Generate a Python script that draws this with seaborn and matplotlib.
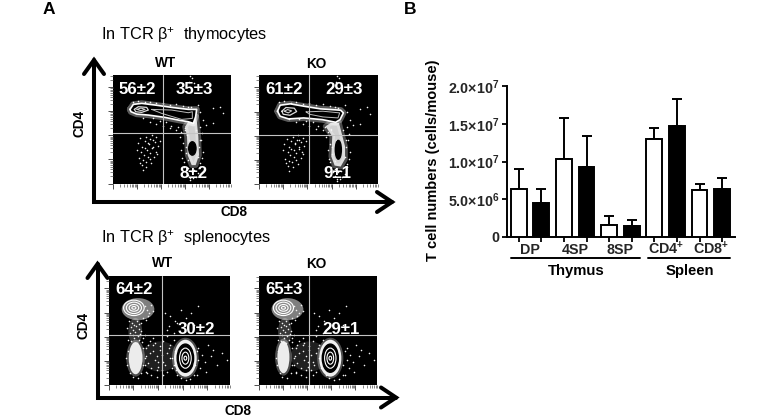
import numpy as np
import pandas as pd
import matplotlib
matplotlib.use("Agg")
import matplotlib.pyplot as plt
from matplotlib.patches import Ellipse
import seaborn as sns

# ---------- bar chart data ----------
CELLS = ["DP", "4SP", "8SP", "CD4$^{+}$", "CD8$^{+}$"]
WT_MEAN = [6.3e6, 10.3e6, 1.6e6, 13.0e6, 6.2e6]
KO_MEAN = [4.5e6, 9.3e6, 1.4e6, 14.7e6, 6.4e6]
WT_TOP = [9.0e6, 15.8e6, 2.8e6, 14.4e6, 7.0e6]
KO_TOP = [6.3e6, 13.4e6, 2.2e6, 18.3e6, 7.8e6]
Y_TICKS = [0, 5e6, 1e7, 1.5e7, 2e7]
Y_TICK_LABELS = ["0", "5.0×10$^{6}$", "1.0×10$^{7}$", "1.5×10$^{7}$", "2.0×10$^{7}$"]

# ---------- flow plots: percentages ----------
P1_LABELS = ["56±2", "35±3", "8±2"]
P2_LABELS = ["61±2", "29±3", "9±1"]
P3_LABELS = ["64±2", "30±2"]
P4_LABELS = ["65±3", "29±1"]

# ---------- flow plots: contours (channel units) ----------
P1_OUTER_X = [51, 61, 86, 126, 176, 226, 251, 248, 241, 226, 196, 156, 106, 71, 54]
P1_OUTER_Y = [222, 237, 240, 235, 228, 222, 222, 200, 180, 185, 190, 198, 205, 208, 215]
P1_HOT_X = [64, 76, 101, 106, 86, 68]
P1_HOT_Y = [222, 230, 228, 220, 213, 215]
P1_CORE_X = [72, 84, 96, 84]
P1_CORE_Y = [222, 226, 222, 218]
P1_MID_X = [116, 176, 226, 238, 238, 206, 146]
P1_MID_Y = [222, 220, 212, 215, 195, 192, 210]
P1_TAIL_X = [250, 256, 258, 248, 236, 224, 222, 216, 226, 241]
P1_TAIL_Y = [200, 140, 85, 55, 55, 85, 140, 170, 185, 180]
P1_HOLE = [238, 105, 11, 20]

P2_OUTER_X = [55, 63, 93, 133, 183, 243, 251, 241, 228, 188, 133, 88, 63]
P2_OUTER_Y = [217, 235, 239, 232, 224, 220, 212, 192, 184, 192, 197, 194, 202]
P2_HOT_X = [68, 80, 105, 112, 92, 72]
P2_HOT_Y = [217, 228, 226, 216, 205, 208]
P2_CORE_X = [75, 85, 97, 87]
P2_CORE_Y = [217, 222, 218, 212]
P2_MID_X = [140, 190, 240, 235, 190, 150]
P2_MID_Y = [215, 217, 212, 197, 200, 208]
P2_TAIL_X = [238, 256, 256, 243, 225, 215, 218, 198, 213]
P2_TAIL_Y = [182, 112, 75, 52, 55, 82, 142, 172, 182]
P2_HOLE = [236, 102, 9, 28]

# spleen populations: centre x, centre y, radius x, radius y
P3_CD4 = [74, 230]
P4_CD4 = [73, 230]
P3_DN = [79, 80, 20, 48]
P4_DN = [73, 83, 18, 48]
P3_CD8 = [224, 80]
P4_CD8 = [213, 80]
CD4_RX = [30, 22, 14, 6]
CD4_RY = [23, 17, 10, 4]
CD8_RX = [33, 24, 17, 10, 4]
CD8_RY = [55, 42, 30, 18, 6]

# ---------- flow plots: single events ----------
THY_X = [75, 82, 88, 95, 100, 108, 112, 118, 125, 130, 135, 140, 85, 92, 103, 110, 120, 128, 78, 90, 98, 105, 115, 124, 132, 87, 96, 106, 116, 72, 80, 100, 90, 120, 110,
         60, 75, 95, 110, 130, 150, 170, 190, 210, 225, 120, 140, 160, 175, 195, 215, 90, 110, 130, 150, 170, 190, 205, 235, 255, 262, 270, 300, 320, 280,
         215, 222, 228, 210, 205, 218, 225, 262, 268, 265, 258, 270, 255, 262, 208, 200, 214, 220, 226, 232, 248, 256, 262, 268, 260, 250, 240, 232, 225, 236, 244, 228, 218, 212,
         232, 238, 244, 228, 330, 300]
THY_Y = [120, 135, 110, 128, 140, 118, 132, 105, 125, 138, 112, 128, 95, 85, 100, 92, 110, 95, 75, 70, 65, 80, 60, 78, 88, 55, 105, 122, 145, 100, 62, 50, 40, 130, 72,
         245, 248, 243, 245, 240, 242, 235, 238, 232, 230, 195, 188, 185, 172, 170, 165, 195, 185, 178, 172, 165, 160, 155, 228, 235, 215, 190, 225, 230, 175,
         160, 145, 130, 120, 100, 90, 70, 170, 150, 130, 110, 95, 80, 60, 75, 140, 50, 35, 25, 15, 20, 30, 50, 75, 130, 160, 15, 10, 45, 35, 40, 120, 110, 65,
         322, 315, 300, 305, 210, 180]
SPL_X = [105, 112, 118, 125, 130, 100, 108, 115, 95, 60, 68, 75, 82, 90, 55, 65, 72, 80, 88, 95, 62, 70, 78, 85, 92, 100, 58, 66, 74, 82, 90, 98, 106,
         110, 120, 130, 140, 150, 160, 170, 180, 115, 125, 135, 145, 155, 165, 175, 185, 120, 130, 140, 150, 160, 170, 130, 145, 155, 110, 125, 105, 115, 135, 100, 112, 140, 160, 180, 190, 195, 170,
         165, 180, 195, 210, 225, 240, 175, 200, 250, 260, 170, 190,
         262, 272, 280, 290, 300, 315, 330, 345, 268, 285, 305, 258,
         190, 195, 198, 252, 258, 262, 200, 210, 225, 238, 250, 185,
         55, 58, 100, 105, 62, 95, 70, 85, 108, 50]
SPL_Y = [235, 225, 215, 240, 220, 200, 195, 205, 185, 190, 185, 180, 190, 182, 170, 172, 165, 175, 168, 160, 155, 150, 158, 145, 152, 140, 135, 130, 140, 125, 135, 128, 150,
         110, 95, 120, 85, 105, 70, 95, 80, 65, 50, 75, 55, 90, 60, 110, 50, 130, 140, 45, 115, 130, 40, 100, 70, 45, 40, 30, 80, 120, 125, 60, 35, 25, 30, 120, 135, 60, 145,
         215, 205, 190, 225, 200, 215, 175, 185, 180, 235, 165, 155,
         110, 90, 70, 120, 85, 60, 95, 75, 50, 40, 105, 30,
         60, 100, 45, 60, 100, 75, 30, 20, 15, 18, 30, 80,
         60, 100, 110, 60, 35, 35, 25, 22, 85, 80]

sns.set_theme(style="white")
FONT = "Liberation Sans"
plt.rcParams["font.family"] = [FONT, "DejaVu Sans"]
plt.rcParams["mathtext.default"] = "regular"

W, H = 780, 418
fig = plt.figure(figsize=(W / 100, H / 100), dpi=100, facecolor="white")


def px_axes(left, top, right, bottom, **kw):
    return fig.add_axes([left / W, 1 - bottom / H, (right - left) / W, (bottom - top) / H], **kw)


def flow_axes(left, top, right, bottom, vx, hy, dots_x, dots_y):
    ax = px_axes(left, top, right, bottom, facecolor="black")
    ax.set_xlim(0, 354)
    ax.set_ylim(0, 325)
    decades = np.arange(0, 5)
    major = decades * 72.0
    minor = np.concatenate([d * 72 + 72 * np.log10(np.arange(2, 10)) for d in decades])
    for axis, lim in ((ax.xaxis, 354), (ax.yaxis, 325)):
        axis.set_ticks(major[major <= lim])
        axis.set_ticks(minor[minor <= lim], minor=True)
        axis.set_ticklabels([])
    ax.tick_params(which="major", length=3.6, width=0.6, color="#333333", bottom=True, left=True)
    ax.tick_params(which="minor", length=2.0, width=0.5, color="#555555", bottom=True, left=True)
    for s in ax.spines.values():
        s.set_visible(False)
    sns.scatterplot(x=dots_x, y=dots_y, s=1.3, marker="o", color="#f2f2f2", linewidth=0, ax=ax, legend=False, zorder=3)
    ax.axvline(vx, color="#c4c4c4", lw=0.8, zorder=6)
    ax.axhline(hy, color="#c4c4c4", lw=0.8, zorder=6)
    return ax


def closed(ax, xs, ys, **kw):
    ax.plot(list(xs) + [xs[0]], list(ys) + [ys[0]], **kw)


def thymus(ax, outer, hot, core, mid, tail, hole):
    closed(ax, tail[0], tail[1], color="white", lw=4, alpha=0.3, zorder=2)
    ax.fill(*tail, color="white", alpha=0.82, lw=0, zorder=2)
    ax.add_patch(Ellipse(hole[:2], 2 * hole[2], 2 * hole[3], color="black", zorder=4))
    closed(ax, outer[0], outer[1], color="white", lw=4.5, alpha=0.35, zorder=3.5)
    ax.fill(*outer, color="black", lw=0, zorder=4)
    for pts, lw, col in ((outer, 1.2, "white"), (hot, 0.9, "#dddddd"), (core, 0.8, "#cccccc"), (mid, 0.7, "#bbbbbb")):
        closed(ax, pts[0], pts[1], color=col, lw=lw, zorder=5)


def spleen(ax, cd4, dn, cd8):
    ax.add_patch(Ellipse((cd4[0] + 12, cd4[1] - 4), 95, 66, color="white", alpha=0.5, lw=0, zorder=2))
    ax.add_patch(Ellipse(dn[:2], 2 * dn[2] + 14, 2 * dn[3] + 14, color="white", alpha=0.3, lw=0, zorder=2))
    ax.add_patch(Ellipse(dn[:2], 2 * dn[2], 2 * dn[3], color="white", alpha=0.9, lw=0, zorder=2))
    ax.add_patch(Ellipse((cd4[0] + 4, 160), 40, 80, color="white", alpha=0.22, lw=0, zorder=2))
    ax.add_patch(Ellipse((150, 85), 110, 90, color="white", alpha=0.13, lw=0, zorder=2))
    for i, (rx, ry) in enumerate(zip(CD4_RX, CD4_RY)):
        ax.add_patch(Ellipse(cd4, 2 * rx, 2 * ry, fc="#8a8a8a" if i == 0 else "none", ec="white", lw=0.8, zorder=4 + i * 0.1))
    ax.add_patch(Ellipse(cd8, 2 * CD8_RX[0] + 12, 2 * CD8_RY[0] + 12, color="white", alpha=0.3, lw=0, zorder=3.5))
    ax.add_patch(Ellipse(cd8, 2 * CD8_RX[0], 2 * CD8_RY[0], color="white", alpha=0.92, lw=0, zorder=4))
    ax.add_patch(Ellipse(cd8, 2 * CD8_RX[1], 2 * CD8_RY[1], color="black", zorder=4.1))
    for rx, ry in zip(CD8_RX[2:], CD8_RY[2:]):
        ax.add_patch(Ellipse(cd8, 2 * rx, 2 * ry, fc="none", ec="white", lw=0.8, zorder=4.2))


ax1 = flow_axes(113, 75, 231, 183.5, 149, 150, THY_X, THY_Y)
thymus(ax1, (P1_OUTER_X, P1_OUTER_Y), (P1_HOT_X, P1_HOT_Y), (P1_CORE_X, P1_CORE_Y), (P1_MID_X, P1_MID_Y), (P1_TAIL_X, P1_TAIL_Y), P1_HOLE)
ax2 = flow_axes(259, 75, 378, 184, 148, 145, THY_X, THY_Y)
thymus(ax2, (P2_OUTER_X, P2_OUTER_Y), (P2_HOT_X, P2_HOT_Y), (P2_CORE_X, P2_CORE_Y), (P2_MID_X, P2_MID_Y), (P2_TAIL_X, P2_TAIL_Y), P2_HOLE)
ax3 = flow_axes(108.5, 276, 230, 385, 155, 148, SPL_X, SPL_Y)
spleen(ax3, P3_CD4, P3_DN, P3_CD8)
ax4 = flow_axes(259, 276, 377.5, 385, 150, 150, SPL_X, SPL_Y)
spleen(ax4, P4_CD4, P4_DN, P4_CD8)

# ---------- bar chart ----------
bar_ax = px_axes(507, 86, 735, 237)
df = pd.DataFrame({
    "cell": CELLS * 2,
    "genotype": ["WT"] * 5 + ["KO"] * 5,
    "count": WT_MEAN + KO_MEAN,
})
sns.barplot(data=df, x="cell", y="count", hue="genotype", palette={"WT": "white", "KO": "black"},
            order=CELLS, hue_order=["WT", "KO"], width=1.0, gap=0.3, errorbar=None,
            edgecolor="black", linewidth=1.4, legend=False, ax=bar_ax, zorder=3)
pos = np.arange(5)
bar_ax.errorbar(pos - 0.25, WT_MEAN, yerr=[np.zeros(5), np.array(WT_TOP) - np.array(WT_MEAN)], fmt="none",
                ecolor="black", elinewidth=1.4, capsize=3.8, capthick=1.4, zorder=2)
bar_ax.errorbar(pos + 0.25, KO_MEAN, yerr=[np.zeros(5), np.array(KO_TOP) - np.array(KO_MEAN)], fmt="none",
                ecolor="black", elinewidth=1.4, capsize=3.8, capthick=1.4, zorder=2)
bar_ax.set_xlim(-0.509, 4.535)
bar_ax.set_ylim(0, 2e7)
bar_ax.set_xlabel("")
bar_ax.set_ylabel("")
bar_ax.set_yticks(Y_TICKS)
bar_ax.set_yticklabels(Y_TICK_LABELS, fontsize=10.3, fontweight="bold")
bar_ax.set_xticks(pos)
bar_ax.set_xticklabels(CELLS, fontsize=10.3, fontweight="bold", va="baseline")
bar_ax.set_xticks(np.concatenate([pos - 0.25, pos + 0.25]), minor=True)
bar_ax.tick_params(axis="x", which="major", length=0, pad=12.6, color="black")
bar_ax.tick_params(axis="x", which="minor", length=3.8, width=1.3, bottom=True, color="black")
bar_ax.tick_params(axis="y", length=3.8, width=1.3, left=True, pad=1.5, color="black")
sns.despine(ax=bar_ax)
for s in ("left", "bottom"):
    bar_ax.spines[s].set_linewidth(1.4)
    bar_ax.spines[s].set_color("black")
bar_ax.patch.set_alpha(0)

# ---------- overlay in pixel units: arrows and text ----------
ov = fig.add_axes([0, 0, 1, 1], facecolor="none")
ov.set_xlim(0, W)
ov.set_ylim(H, 0)
ov.axis("off")
ov.set_zorder(10)


def arrow(x0, y0, top, right):
    kw = dict(color="black", lw=2.9, solid_capstyle="round", solid_joinstyle="miter")
    ov.plot([x0, x0, right], [top, y0, y0], **kw)
    ov.plot([x0 - 10, x0, x0 + 10], [top + 14, top, top + 14], **kw)
    ov.plot([right - 15, right, right - 15], [y0 - 10, y0, y0 + 10], **kw)


arrow(94, 202, 60, 392)
arrow(97.5, 397.5, 264, 396)


def t(x, y, s, size=9.8, weight="bold", color="black", **kw):
    ov.text(x, y, s, fontsize=size, fontweight=weight, color=color, ha=kw.pop("ha", "center"), va="center", **kw)


t(49, 10, "A", size=12.5)
t(410, 9, "B", size=12.5)
t(101, 35, "In TCR β$^{+}$  thymocytes", size=11.8, weight="normal", ha="left")
t(101, 238, "In TCR β$^{+}$  splenocytes", size=11.8, weight="normal", ha="left")
t(166, 63, "WT")
t(316, 64, "KO")
t(163, 263, "WT")
t(316, 264, "KO")
t(79, 123, "CD4", rotation=90)
t(83, 325, "CD4", rotation=90)
t(234, 212.5, "CD8")
t(238, 411, "CD8")
for (x, y), s in zip([(137, 89), (194, 89), (194, 174)], P1_LABELS):
    t(x, y, s, size=12.2, color="white")
for (x, y), s in zip([(284, 89), (344, 89), (337, 174)], P2_LABELS):
    t(x, y, s, size=12.2, color="white")
for (x, y), s in zip([(134, 289), (196, 329)], P3_LABELS):
    t(x, y, s, size=12.2, color="white")
for (x, y), s in zip([(284, 289), (341, 329)], P4_LABELS):
    t(x, y, s, size=12.2, color="white")

t(433, 160, "T cell numbers (cells/mouse)", size=10.5, rotation=90)
ov.plot([511, 640], [258, 258], color="black", lw=1.4)
ov.plot([648, 730], [258, 258], color="black", lw=1.4)
t(576, 271, "Thymus", size=10.7)
t(690, 271, "Spleen", size=10.7)

fig.savefig("out.png", dpi=100)
